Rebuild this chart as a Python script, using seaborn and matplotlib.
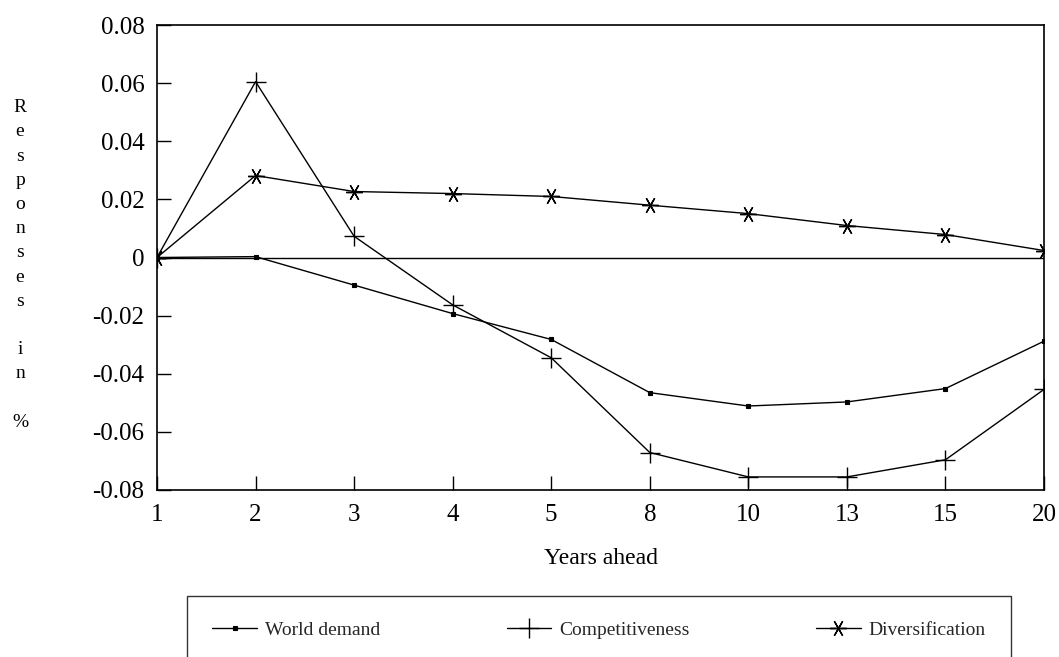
import matplotlib
matplotlib.use("Agg")
import matplotlib.pyplot as plt
import seaborn as sns
import pandas as pd

# Horizon labels (years ahead), evenly spaced as categories
years = ["1", "2", "3", "4", "5", "8", "10", "13", "15", "20"]

# Impulse responses (in %)
world_demand = [0.0, 0.0003, -0.0095, -0.0193, -0.0282, -0.0465, -0.0511, -0.0497, -0.0451, -0.0288]
competitiveness = [0.0, 0.0605, 0.0073, -0.0163, -0.0345, -0.0671, -0.0755, -0.0755, -0.0696, -0.0454]
diversification = [0.0, 0.0282, 0.0227, 0.0220, 0.0210, 0.0180, 0.0151, 0.0110, 0.0079, 0.0024]

series_names = ["World demand", "Competitiveness", "Diversification"]
y_ticks = [-0.08, -0.06, -0.04, -0.02, 0.0, 0.02, 0.04, 0.06, 0.08]
y_tick_labels = ["-0.08", "-0.06", "-0.04", "-0.02", "0", "0.02", "0.04", "0.06", "0.08"]

sns.set_theme(style="white")
plt.rcParams["font.family"] = ["Liberation Serif", "DejaVu Serif"]

df = pd.DataFrame({
    "Years ahead": years * 3,
    "Response": world_demand + competitiveness + diversification,
    "Series": [s for s in series_names for _ in years],
})

fig = plt.figure(figsize=(10.59, 6.57), dpi=100)
ax = fig.add_axes([157 / 1059, 1 - 490 / 657, (1044 - 157) / 1059, (490 - 25) / 657])

markers = {
    "World demand": dict(marker="s", markersize=3.2, markeredgewidth=0.8),
    "Competitiveness": dict(marker="+", markersize=14, markeredgewidth=1.0),
    "Diversification": dict(marker=(6, 2, 90), markersize=12, markeredgewidth=1.0),
}

for name in series_names:
    sub = df[df["Series"] == name]
    sns.lineplot(data=sub, x="Years ahead", y="Response", ax=ax, sort=False,
                 color="black", linewidth=1.0, label=name,
                 markerfacecolor="black", markeredgecolor="black",
                 **markers[name])

ax.axhline(0, color="black", linewidth=1.0, zorder=1)

ax.set_xlim(0, len(years) - 1)
ax.set_ylim(-0.08, 0.08)
ax.set_yticks(y_ticks)
ax.set_yticklabels(y_tick_labels)
ax.set_xticks(range(len(years)))
ax.set_xticklabels(years)

ax.tick_params(axis="both", direction="in", length=10, width=1.0, color="black",
               labelsize=18, labelcolor="black")
ax.tick_params(axis="x", pad=10, bottom=True)
ax.tick_params(axis="y", pad=9, left=True)

for spine in ax.spines.values():
    spine.set_visible(True)
    spine.set_color("black")
    spine.set_linewidth(1.2)

ax.set_xlabel("Years ahead", fontsize=17, color="black", labelpad=16)
ax.set_ylabel("")

# Stacked vertical axis title
fig.text(20 / 1059, 1 - 265 / 657, "R\ne\ns\np\no\nn\ns\ne\ns\n\ni\nn\n\n%",
         ha="center", va="center", fontsize=14, linespacing=1.555, color="black")

handles, labels = ax.get_legend_handles_labels()
ax.get_legend().remove()
leg = fig.legend(handles, labels, loc="upper left",
                 bbox_to_anchor=(187 / 1059, -0.3, (1011 - 187) / 1059, 0.3 + 1 - 596 / 657),
                 mode="expand", ncol=3, frameon=True, fancybox=False, shadow=False,
                 fontsize=14, borderpad=1.3, borderaxespad=0, handlelength=2.3,
                 handletextpad=0.4)
frame = leg.get_frame()
frame.set_edgecolor("black")
frame.set_linewidth(1.0)
frame.set_facecolor("white")

fig.savefig("out.png", dpi=100)
